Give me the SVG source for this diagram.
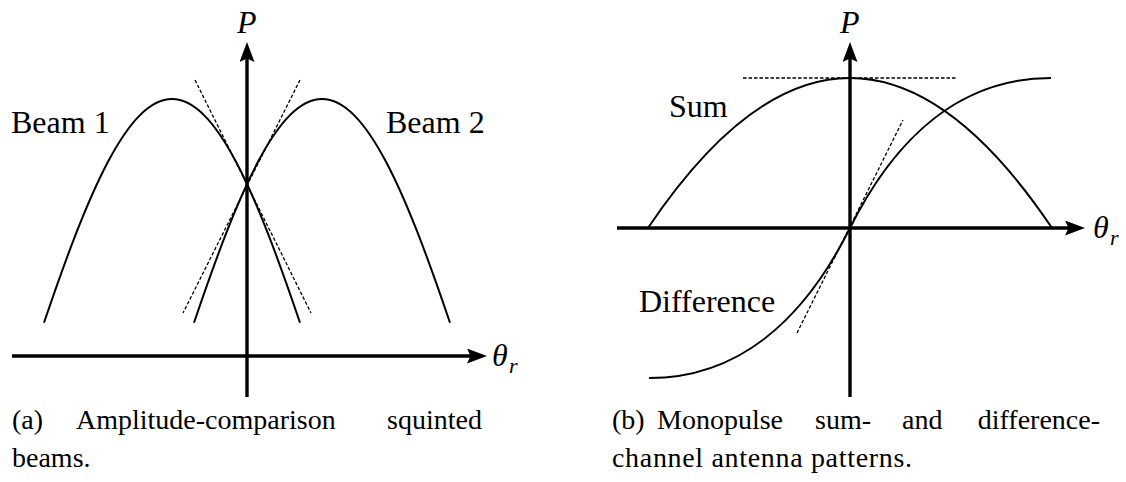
<svg xmlns="http://www.w3.org/2000/svg" width="1126" height="482" viewBox="0 0 1126 482">
<style>
.axis{stroke:#000;stroke-width:3.4;fill:none}
.curve{stroke:#000;stroke-width:2;fill:none}
.dash{stroke:#000;stroke-width:1.3;fill:none;stroke-dasharray:3.5 2}
text{fill:#000}
.lbl{font-size:32px}
.math{font-style:italic;font-size:32px}
.sub{font-style:italic;font-size:22px}
.cap{font-size:28px}
</style>
<defs>
<marker id="arr" markerUnits="userSpaceOnUse" viewBox="0 0 20 15" refX="10" refY="7.5" markerWidth="20" markerHeight="15" orient="auto">
<path d="M0,0 L20,7.5 L0,15 L3.5,7.5 Z" fill="#000"/>
</marker>
</defs>
<g id="connectors">
<line class="axis" x1="247" y1="397" x2="247" y2="52" marker-end="url(#arr)"/>
<line class="axis" x1="12" y1="356" x2="477" y2="356" marker-end="url(#arr)"/>
<line class="axis" x1="850" y1="397" x2="850" y2="52" marker-end="url(#arr)"/>
<line class="axis" x1="617" y1="228" x2="1075" y2="228" marker-end="url(#arr)"/>
</g>
<g font-family="Liberation Serif, Tinos, Times New Roman, Times, DejaVu Serif, Noto Serif, FreeSerif, serif">
<g id="beam1">
<path class="curve" d="M44 322.8 C54.67 291.3 65.33 261.05 76 233.7 C86.67 206.35 97.33 181.88 108 161.75 C118.67 141.62 129.33 125.76 140 115.1 C150.67 104.44 161.33 99 172 99 C182.67 99 193.33 104.44 204 115.1 C214.67 125.76 225.33 141.62 236 161.75 C246.67 181.88 257.33 206.35 268 233.7 C278.67 261.05 289.33 291.3 300 322.8"/>
<line class="dash" x1="195" y1="80" x2="311" y2="313"/>
<text class="lbl" x="11" y="133">Beam 1</text>
</g>
<g id="beam2">
<path class="curve" d="M450 322.8 C439.33 291.3 428.67 261.05 418 233.7 C407.33 206.35 396.67 181.88 386 161.75 C375.33 141.62 364.67 125.76 354 115.1 C343.33 104.44 332.67 99 322 99 C311.33 99 300.67 104.44 290 115.1 C279.33 125.76 268.67 141.62 258 161.75 C247.33 181.88 236.67 206.35 226 233.7 C215.33 261.05 204.67 291.3 194 322.8"/>
<line class="dash" x1="300" y1="80" x2="183" y2="313"/>
<text class="lbl" x="386" y="133">Beam 2</text>
</g>
<g id="axis-labels-a">
<text class="math" x="237" y="33">P</text>
<text class="math" x="492" y="366">θ</text>
<text class="sub" x="509" y="373">r</text>
</g>
<g id="sum">
<path class="curve" d="M648 228 Q850 -72 1052 228"/>
<line class="dash" x1="743" y1="78" x2="957" y2="78"/>
<text class="lbl" x="669" y="117">Sum</text>
</g>
<g id="difference">
<path class="curve" d="M649 378 C740 378 805 318 850 228 C895 138 960 78 1051 78"/>
<line class="dash" x1="797" y1="333" x2="903" y2="120"/>
<text class="lbl" x="639" y="312">Difference</text>
</g>
<g id="axis-labels-b">
<text class="math" x="840" y="33">P</text>
<text class="math" x="1093" y="238">θ</text>
<text class="sub" x="1110" y="245">r</text>
</g>
<g id="caption-a">
<text class="cap" x="12" y="429">(a)</text>
<text class="cap" x="76" y="429">Amplitude-comparison</text>
<text class="cap" x="482" y="429" text-anchor="end">squinted</text>
<text class="cap" x="12" y="467">beams.</text>
</g>
<g id="caption-b">
<text class="cap" x="612" y="429">(b)</text>
<text class="cap" x="657" y="429">Monopulse</text>
<text class="cap" x="815" y="429">sum-</text>
<text class="cap" x="902" y="429">and</text>
<text class="cap" x="1100" y="429" text-anchor="end">difference-</text>
<text class="cap" x="612" y="467" textLength="300" lengthAdjust="spacing">channel antenna patterns.</text>
</g>
</g>
</svg>
